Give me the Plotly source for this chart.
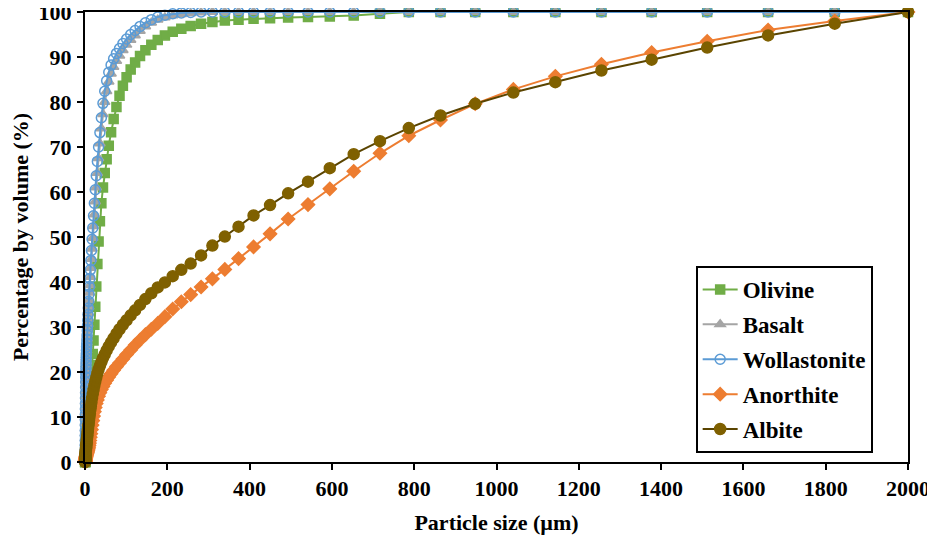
import plotly.graph_objects as go

# particle size classes (µm), laser diffraction channels
size_um = [
    0.375, 0.412, 0.452, 0.496, 0.545, 0.598, 0.657, 0.721, 0.791, 0.869,
    0.954, 1.047, 1.149, 1.261, 1.385, 1.520, 1.669, 1.832, 2.011, 2.208,
    2.423, 2.660, 2.920, 3.206, 3.519, 3.863, 4.240, 4.655, 5.110, 5.610,
    6.158, 6.760, 7.421, 8.147, 8.943, 9.817, 10.78, 11.83, 12.99, 14.26,
    15.65, 17.18, 18.86, 20.70, 22.73, 24.95, 27.39, 30.07, 33.01, 36.24,
    39.78, 43.67, 47.94, 52.62, 57.77, 63.41, 69.61, 76.42, 83.89, 92.09,
    101.1, 111.0, 121.8, 133.7, 146.8, 161.2, 176.8, 194.2, 213.2, 234.1,
    256.8, 282.1, 309.6, 339.8, 373.1, 409.6, 449.7, 493.6, 541.9, 594.9,
    653.0, 716.8, 786.9, 863.9, 948.3, 1041, 1143, 1255, 1377, 1512,
    1660, 1822, 2000,
]

# cumulative percentage by volume
olivine = [
    0, 0, 0, 0, 0.05, 0.1, 0.15, 0.2, 0.3, 0.4,
    0.55, 0.7, 0.9, 1.1, 1.3, 1.6, 1.9, 2.2, 2.6, 3.0,
    3.5, 4.0, 4.5, 5.1, 5.7, 6.3, 7.0, 7.7, 8.4, 9.2,
    10.0, 10.8, 11.6, 12.4, 13.2, 14.0, 15.0, 16.0, 17.0, 18.2,
    19.5, 21.5, 24.0, 27.0, 30.5, 34.5, 39.0, 44.0, 49.0, 53.5,
    57.5, 61.0, 64.2, 67.3, 70.3, 73.3, 76.2, 78.9, 81.4, 83.6,
    85.5, 87.2, 88.8, 90.2, 91.5, 92.7, 93.8, 94.8, 95.6, 96.3,
    96.9, 97.4, 97.8, 98.1, 98.3, 98.5, 98.6, 98.8, 98.9, 99.0,
    99.2, 99.6, 100, 100, 100, 100, 100, 100, 100, 100,
    100, 100, 100,
]

basalt = [
    0, 0.6, 1.4, 2.3, 3.2, 4.2, 5.2, 6.3, 7.4, 8.6,
    9.8, 11.0, 12.2, 13.4, 14.6, 15.8, 17.0, 18.1, 19.1, 20.0,
    20.8, 21.6, 22.4, 23.2, 24.0, 24.8, 25.6, 26.5, 27.4, 28.4,
    29.4, 30.6, 31.8, 33.1, 34.5, 36.0, 37.6, 39.3, 41.1, 43.1,
    45.1, 47.4, 49.8, 52.4, 55.0, 57.9, 61.0, 64.2, 67.5, 70.8,
    74.1, 77.3, 80.0, 82.4, 84.5, 86.3, 87.8, 89.1, 90.3, 91.5,
    92.7, 93.8, 94.8, 95.8, 96.8, 97.6, 98.3, 98.8, 99.2, 99.5,
    99.7, 99.9, 100, 100, 100, 100, 100, 100, 100, 100,
    100, 100, 100, 100, 100, 100, 100, 100, 100, 100,
    100, 100, 100,
]

wollastonite = [
    0, 0.8, 1.7, 2.7, 3.7, 4.8, 5.9, 7.0, 8.2, 9.4,
    10.6, 11.8, 13.0, 14.2, 15.4, 16.6, 17.8, 18.9, 19.9, 20.8,
    21.6, 22.4, 23.2, 24.0, 24.8, 25.6, 26.4, 27.3, 28.2, 29.2,
    30.3, 31.5, 32.8, 34.2, 35.7, 37.3, 39.0, 40.8, 42.7, 44.8,
    47.0, 49.5, 52.0, 54.7, 57.5, 60.5, 63.6, 66.8, 70.0, 73.2,
    76.5, 79.7, 82.4, 84.7, 86.6, 88.2, 89.6, 90.8, 91.9, 93.0,
    94.0, 95.0, 95.9, 96.8, 97.6, 98.3, 98.9, 99.3, 99.6, 99.8,
    99.9, 100, 100, 100, 100, 100, 100, 100, 100, 100,
    100, 100, 100, 100, 100, 100, 100, 100, 100, 100,
    100, 100, 100,
]

anorthite = [
    0, 0.05, 0.1, 0.15, 0.2, 0.25, 0.3, 0.35, 0.4, 0.45,
    0.5, 0.55, 0.6, 0.65, 0.7, 0.8, 0.9, 1.0, 1.05, 1.1,
    1.2, 1.3, 1.4, 1.5, 1.6, 1.7, 1.8, 1.9, 2.0, 2.1,
    2.3, 2.5, 2.7, 3.0, 3.3, 3.7, 4.2, 4.8, 5.5, 6.3,
    7.2, 8.2, 9.2, 10.2, 11.2, 12.1, 13.0, 13.8, 14.6, 15.4,
    16.1, 16.8, 17.5, 18.2, 18.9, 19.6, 20.4, 21.2, 22.0, 22.9,
    23.9, 24.9, 26.0, 27.1, 28.3, 29.5, 30.8, 32.3, 34.0, 35.6,
    37.2, 38.9, 40.7, 42.8, 45.2, 47.8, 50.7, 54.0, 57.2, 60.7,
    64.6, 68.6, 72.5, 76.0, 79.6, 82.8, 85.7, 88.4, 91.0, 93.5,
    96.0, 98.0, 100,
]

albite = [
    0, 0.1, 0.2, 0.3, 0.4, 0.5, 0.6, 0.7, 0.8, 0.9,
    1.0, 1.1, 1.3, 1.4, 1.6, 1.8, 2.0, 2.2, 2.4, 2.6,
    2.9, 3.1, 3.4, 3.7, 4.0, 4.3, 4.7, 5.1, 5.5, 5.9,
    6.4, 6.9, 7.4, 8.0, 8.6, 9.3, 10.0, 10.8, 11.6, 12.4,
    13.3, 14.2, 15.1, 16.0, 17.0, 17.9, 18.8, 19.7, 20.6, 21.4,
    22.2, 23.1, 23.9, 24.8, 25.7, 26.6, 27.5, 28.5, 29.5, 30.5,
    31.5, 32.6, 33.7, 34.9, 36.2, 37.5, 38.8, 39.9, 41.3, 42.7,
    44.1, 45.9, 48.1, 50.1, 52.3, 54.8, 57.1, 59.7, 62.3, 65.3,
    68.4, 71.3, 74.2, 77.0, 79.6, 82.1, 84.4, 87.0, 89.4, 92.1,
    94.8, 97.4, 100,
]

FONT = "Liberation Serif, Times New Roman, serif"

series = [
    ("Olivine", olivine, "#70AD47", "#70AD47", "square", 9),
    ("Basalt", basalt, "#A5A5A5", "#A5A5A5", "triangle-up", 9),
    ("Wollastonite", wollastonite, "#5B9BD5", "#5B9BD5", "circle-open", 10),
    ("Anorthite", anorthite, "#ED7D31", "#ED7D31", "diamond", 10),
    ("Albite", albite, "#7F6000", "#5A4400", "circle", 11),
]

fig = go.Figure()
for i, (name, vals, mcolor, lcolor, symbol, msize) in enumerate(series):
    fig.add_trace(go.Scatter(
        x=size_um,
        y=vals,
        name=name,
        mode="lines+markers",
        line=dict(color=lcolor, width=2),
        marker=dict(symbol=symbol, size=msize, color=mcolor,
                    line=dict(width=1.5, color=mcolor)),
        cliponaxis=False,
        legendgroup=str(i),
    ))

axis_style = dict(
    automargin=False,
    showline=True,
    linecolor="black",
    linewidth=2,
    mirror=True,
    ticks="outside",
    ticklen=6,
    tickwidth=2,
    tickcolor="black",
    showgrid=False,
    zeroline=False,
    ticklabeloverflow="allow",
    tickfont=dict(family=FONT, size=22, color="black", weight="bold"),
)

fig.update_xaxes(
    range=[0, 2000],
    tick0=0,
    dtick=200,
    ticklabelstandoff=0,
    title=dict(text="Particle size (µm)", standoff=20,
               font=dict(family=FONT, size=22, color="black", weight="bold")),
    **axis_style
)
fig.update_yaxes(
    range=[0, 100],
    tick0=0,
    dtick=10,
    ticklabelstandoff=1,
    title=dict(text="Percentage by volume (%)", standoff=20,
               font=dict(family=FONT, size=22, color="black", weight="bold")),
    **axis_style
)

# the page body adds an 8 px offset at the top left
fig.update_layout(
    width=927,
    height=527,
    margin=dict(l=77, r=27, t=4, b=73),
    plot_bgcolor="white",
    paper_bgcolor="white",
    font=dict(family=FONT, color="black"),
    legend=dict(
        x=0.742,
        y=0.4356,
        xanchor="left",
        yanchor="top",
        bgcolor="white",
        bordercolor="black",
        borderwidth=2,
        tracegroupgap=2,
        itemwidth=35,
        font=dict(family=FONT, size=23, color="black", weight="bold"),
    ),
)

fig.write_html("out.html")
